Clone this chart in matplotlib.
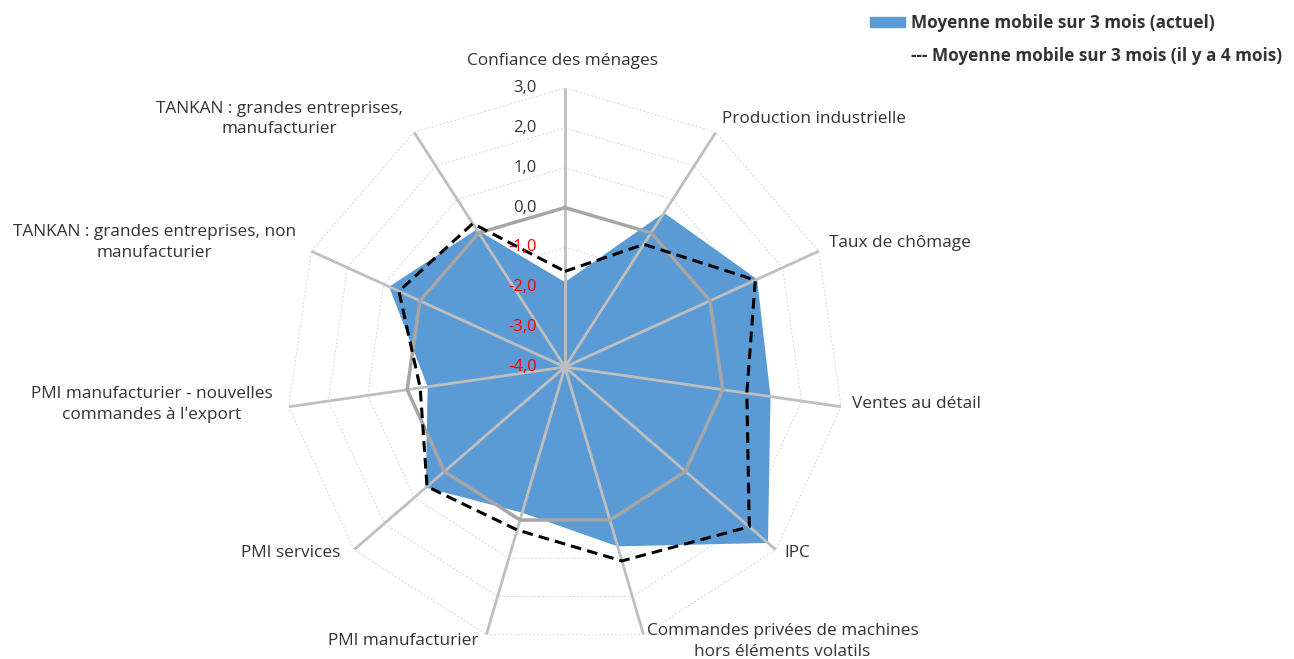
import matplotlib
matplotlib.use('Agg')
import matplotlib.pyplot as plt
import numpy as np
from matplotlib.patches import Patch
from matplotlib.lines import Line2D

plt.rcParams['font.family'] = ['Open Sans', 'DejaVu Sans']

# data
categories = ['Confiance des ménages', 'Production industrielle', 'Taux de chômage',
              'Ventes au détail', 'IPC',
              'Commandes privées de machines\nhors éléments volatils',
              'PMI manufacturier', 'PMI services',
              "PMI manufacturier - nouvelles\ncommandes à l'export",
              'TANKAN : grandes entreprises, non\nmanufacturier',
              'TANKAN : grandes entreprises,\nmanufacturier']
current = [-1.87, 0.60, 1.30, 1.21, 2.74, 0.69, -0.19, 0.62, -0.52, 0.85, 0.10]
four_months_ago = [-1.60, -0.34, 1.25, 0.61, 2.12, 1.07, 0.26, 0.58, -0.33, 0.58, 0.28]
ring_values = [-3, -2, -1, 1, 2, 3]
tick_values = [3, 2, 1, 0, -1, -2, -3, -4]
legend_labels = ['Moyenne mobile sur 3 mois (actuel)',
                 '--- Moyenne mobile sur 3 mois (il y a 4 mois)']

blue = '#5B9BD5'
spoke = '#BFBFBF'
txt = '#333333'

n = len(categories)
theta = np.arange(n) * 2 * np.pi / n
theta_c = np.append(theta, theta[0])

fig = plt.figure(figsize=(12.94, 6.59), dpi=100)
ax = fig.add_axes([0.2210, 0.0197, 0.4312, 0.8467], projection='polar')
ax.set_theta_offset(np.pi / 2)
ax.set_theta_direction(-1)
ax.set_ylim(-4, 3)
ax.set_xticks([])
ax.set_yticks([])
ax.grid(False)
ax.spines['polar'].set_visible(False)
ax.patch.set_visible(False)

# dotted rings
for v in ring_values:
    ax.plot(theta_c, [v] * (n + 1), color='#D6D6D6', lw=0.7, ls=(0, (2, 2)), zorder=0)

# current series as filled area
ax.fill(theta_c, np.append(current, current[0]), color=blue, lw=0, zorder=1)

# spokes
for t in theta:
    ax.plot([t, t], [-4, 3], color=spoke, lw=2, zorder=2, solid_capstyle='butt')

# zero ring
ax.plot(theta_c, [0] * (n + 1), color='#A6A6A6', lw=2.5, zorder=3)

# dashed series
ax.plot(theta_c, np.append(four_months_ago, four_months_ago[0]), color='black',
        lw=2.2, ls=(0, (3.5, 2)), zorder=4)

# radial tick labels
for v in tick_values:
    ax.annotate(f'{v:.1f}'.replace('.', ','), xy=(0, v), xytext=(-28, 0),
                textcoords='offset pixels', ha='right', va='center',
                fontsize=12, color=txt if v >= 0 else '#FF0000', zorder=5)

# category labels
for t, lab in zip(theta, categories):
    s, c = np.sin(t), np.cos(t)
    if abs(s) < 0.1:
        ax.annotate(lab, xy=(t, 3), xytext=(-2, 27), textcoords='offset pixels',
                    ha='center', va='center', fontsize=12.4, color=txt)
        continue
    dx = 11 * s + (-5 if s < 0 else 0)
    dy = 11 * c + 4
    ax.annotate(lab, xy=(t, 3), xytext=(dx, dy), textcoords='offset pixels',
                ha='left' if s > 0 else 'right', va='center', multialignment='center',
                linespacing=1.4, fontsize=12.4, color=txt)

handles = [Patch(color=blue), Line2D([], [], color='none')]
fig.legend(handles, legend_labels, loc='upper left', bbox_to_anchor=(855 / 1294, 1 + 1 / 659),
           frameon=False, prop={'weight': 'bold', 'size': 12.3},
           handlelength=2.0, handleheight=0.5, handletextpad=0.35, labelspacing=0.85,
           labelcolor=txt)

fig.savefig('out.png', dpi=100, facecolor='white')
